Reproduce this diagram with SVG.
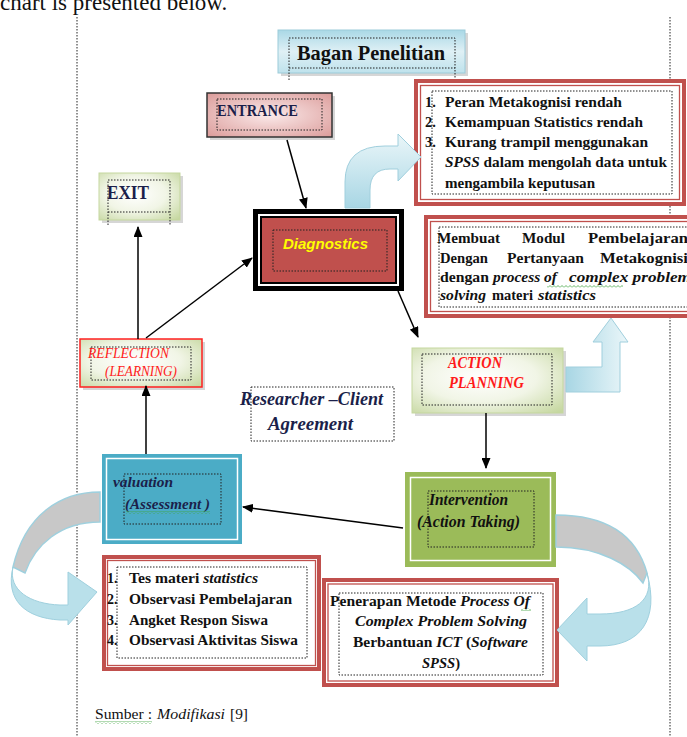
<svg xmlns="http://www.w3.org/2000/svg" width="687" height="737" viewBox="0 0 687 737">
<style>
.t{font-family:"Liberation Serif",serif;font-weight:bold;fill:#111;}
.r{font-family:"Liberation Serif",serif;fill:#111;}
.i{font-style:italic;}
.navy{fill:#1b1f4a;}
.red{fill:#ff1a1a;}
.dot{fill:none;stroke:#222;stroke-width:1;stroke-dasharray:1.5 1.5;}
.ro{fill:#fff;stroke:#c0504d;stroke-width:4;}
.ri{fill:none;stroke:#c0504d;stroke-width:1.3;}
.conn{stroke:#000;stroke-width:1.5;fill:none;}
.arr{marker-end:url(#ah);}
.sh{fill:#bbb;opacity:0.6;}
.sq{fill:url(#squig);}
</style>
<defs>
<marker id="ah" markerUnits="userSpaceOnUse" markerWidth="11" markerHeight="9" refX="10" refY="4.5" orient="auto">
<path d="M0,0 L11,4.5 L0,9 Z" fill="#000"/>
</marker>
<radialGradient id="gGreen" cx="0.45" cy="0.45" r="0.75">
<stop offset="0" stop-color="#ffffff"/>
<stop offset="0.5" stop-color="#f1f5e6"/>
<stop offset="1" stop-color="#c5d79f"/>
</radialGradient>
<radialGradient id="gPink" cx="0.5" cy="0.5" r="0.75">
<stop offset="0" stop-color="#fbeaea"/>
<stop offset="1" stop-color="#d99694"/>
</radialGradient>
<linearGradient id="gTitle" x1="0" y1="0" x2="0" y2="1">
<stop offset="0" stop-color="#a9d8e6"/>
<stop offset="0.5" stop-color="#dff0f5"/>
<stop offset="1" stop-color="#bfe2ec"/>
</linearGradient>
<linearGradient id="gBlue" x1="0" y1="0" x2="1" y2="0">
<stop offset="0" stop-color="#a8d6e4"/>
<stop offset="1" stop-color="#eaf6f9"/>
</linearGradient>
<linearGradient id="gBlueV" x1="0" y1="1" x2="0" y2="0">
<stop offset="0" stop-color="#a8d6e4"/>
<stop offset="1" stop-color="#eaf6f9"/>
</linearGradient>
<pattern id="squig" patternUnits="userSpaceOnUse" width="4" height="3">
<path d="M0,2.5 L2,0.5 L4,2.5" fill="none" stroke="#3fa33f" stroke-width="0.8"/>
</pattern>
</defs>

<rect width="687" height="737" fill="#fff"/>

<text class="r" x="0" y="10" font-size="23">chart is presented below.</text>

<line x1="77" y1="17" x2="77" y2="737" class="dot"/>
<line x1="670" y1="17" x2="670" y2="737" class="dot"/>

<g id="title">
<rect x="281" y="33" width="187" height="43" class="sh"/>
<rect x="278" y="30" width="187" height="43" fill="url(#gTitle)" stroke="#9ccbd9" stroke-width="1"/>
<path d="M289,80 L289,38 L455,38 L455,80 M289,68 L455,68" class="dot"/>
<text class="t" x="297" y="60" font-size="21" textLength="148" lengthAdjust="spacingAndGlyphs">Bagan Penelitian</text>
</g>

<g id="entrance">
<rect x="210" y="96" width="125" height="44" class="sh"/>
<rect x="207" y="93" width="125" height="44" fill="url(#gPink)" stroke="#333" stroke-width="1.5"/>
<rect x="217" y="99" width="105" height="31" class="dot"/>
<text class="t navy" x="217" y="116" font-size="17" textLength="81" lengthAdjust="spacingAndGlyphs">ENTRANCE</text>
</g>

<g id="exit">
<rect x="102" y="176" width="81" height="47" class="sh"/>
<rect x="99" y="173" width="81" height="47" fill="url(#gGreen)" stroke="#c5d79f" stroke-width="1"/>
<path d="M108,225 L108,180 L170,180 L170,225 M108,212 L170,212" class="dot"/>
<text class="t navy" x="107" y="199" font-size="18" textLength="42" lengthAdjust="spacingAndGlyphs">EXIT</text>
</g>

<g id="diagnostics">
<rect x="253" y="209" width="151" height="82" fill="#000"/>
<rect x="258" y="214" width="141" height="72" fill="#fff"/>
<rect x="260" y="216" width="137" height="68" fill="#000"/>
<rect x="262" y="218" width="133" height="64" fill="#c0504d"/>
<rect x="273" y="230" width="114" height="41" class="dot" stroke="#ddd"/>
<text x="283" y="249" font-family="Liberation Sans, sans-serif" font-style="italic" font-weight="bold" font-size="15" fill="#ffff00" textLength="85" lengthAdjust="spacingAndGlyphs">Diagnostics</text>
</g>

<g id="problems">
<rect x="416" y="81" width="268" height="123" class="ro"/>
<rect x="420.5" y="85.5" width="259" height="114" class="ri"/>
<rect x="432" y="91" width="240" height="103" class="dot"/>
<text class="t" x="425" y="107" font-size="14.5">1.</text>
<text class="t" x="425" y="127" font-size="14.5">2.</text>
<text class="t" x="425" y="147" font-size="14.5">3.</text>
<text class="t" x="445" y="107" font-size="14.5" textLength="177" lengthAdjust="spacingAndGlyphs">Peran Metakognisi rendah</text>
<text class="t" x="445" y="127" font-size="14.5" textLength="198" lengthAdjust="spacingAndGlyphs">Kemampuan Statistics rendah</text>
<text class="t" x="445" y="147" font-size="14.5" textLength="203" lengthAdjust="spacingAndGlyphs">Kurang trampil menggunakan</text>
<text class="t" x="445" y="167" font-size="14.5" textLength="222" lengthAdjust="spacingAndGlyphs"><tspan class="i">SPSS</tspan> dalam mengolah data untuk</text>
<text class="t" x="445" y="188" font-size="14.5" textLength="150" lengthAdjust="spacingAndGlyphs">mengambila keputusan</text>
</g>

<g id="modul">
<rect x="426" y="217" width="300" height="99" class="ro"/>
<rect x="430.5" y="221.5" width="300" height="90" class="ri"/>
<rect x="439" y="227" width="260" height="80" class="dot"/>
<text class="t" x="437" y="243" font-size="15" textLength="63" lengthAdjust="spacingAndGlyphs">Membuat</text>
<text class="t" x="522" y="243" font-size="15" textLength="43" lengthAdjust="spacingAndGlyphs">Modul</text>
<text class="t" x="588" y="243" font-size="15" textLength="100" lengthAdjust="spacingAndGlyphs">Pembelajaran</text>
<text class="t" x="440" y="263" font-size="15" textLength="48" lengthAdjust="spacingAndGlyphs">Dengan</text>
<text class="t" x="507" y="263" font-size="15" textLength="77" lengthAdjust="spacingAndGlyphs">Pertanyaan</text>
<text class="t" x="600" y="263" font-size="15" textLength="88" lengthAdjust="spacingAndGlyphs">Metakognisi</text>
<text class="t" x="440" y="282" font-size="15" textLength="49" lengthAdjust="spacingAndGlyphs">dengan</text>
<text class="t i" x="493" y="282" font-size="15" textLength="64" lengthAdjust="spacingAndGlyphs">process of</text>
<text class="t i" x="569" y="282" font-size="15" textLength="122" lengthAdjust="spacingAndGlyphs">complex problem</text>
<rect x="547" y="285" width="76" height="3" class="sq"/>
<text class="t i" x="440" y="300" font-size="15" textLength="46" lengthAdjust="spacingAndGlyphs">solving</text>
<text class="t" x="492" y="300" font-size="15" textLength="41" lengthAdjust="spacingAndGlyphs">materi</text>
<text class="t i" x="538" y="300" font-size="15" textLength="58" lengthAdjust="spacingAndGlyphs">statistics</text>
</g>

<g id="action">
<rect x="415" y="351" width="151" height="65" class="sh"/>
<rect x="412" y="348" width="151" height="65" fill="url(#gGreen)" stroke="#c5d79f" stroke-width="1"/>
<rect x="422" y="354" width="130" height="51" class="dot"/>
<text class="t i red" x="448" y="368" font-size="16" textLength="54" lengthAdjust="spacingAndGlyphs">ACTION</text>
<text class="t i red" x="449" y="388" font-size="16" textLength="75" lengthAdjust="spacingAndGlyphs">PLANNING</text>
</g>

<g id="reflection">
<rect x="83" y="342" width="122" height="48" class="sh"/>
<rect x="80" y="339" width="122" height="48" fill="url(#gGreen)" stroke="#ff2020" stroke-width="1.5"/>
<rect x="91" y="347" width="100" height="33" class="dot"/>
<text class="r i red" x="88" y="358" font-size="14" textLength="81" lengthAdjust="spacingAndGlyphs">REFLECTION</text>
<text class="r i red" x="105" y="376" font-size="14" textLength="72" lengthAdjust="spacingAndGlyphs">(LEARNING)</text>
</g>

<g id="agreement">
<rect x="251" y="387" width="143" height="54" class="dot"/>
<text class="t i navy" x="240" y="405" font-size="18" textLength="143" lengthAdjust="spacingAndGlyphs">Researcher –Client</text>
<text class="t i navy" x="268" y="430" font-size="18" textLength="85" lengthAdjust="spacingAndGlyphs">Agreement</text>
</g>

<g id="evaluation">
<rect x="102" y="454" width="140" height="90" fill="#4bacc6"/>
<rect x="106.5" y="458.5" width="131" height="81" fill="none" stroke="#fff" stroke-width="1.5"/>
<rect x="124" y="474" width="97" height="50" class="dot"/>
<text class="t i navy" x="113" y="487" font-size="15" textLength="60" lengthAdjust="spacingAndGlyphs">valuation</text>
<text class="t i navy" x="125" y="509" font-size="15" textLength="85" lengthAdjust="spacingAndGlyphs">(Assessment )</text>
<rect x="126" y="511" width="84" height="3" class="sq"/>
</g>

<g id="intervention">
<rect x="405" y="472" width="151" height="95" fill="#9bbb59"/>
<rect x="410.5" y="477.5" width="140" height="83" fill="none" stroke="#fff" stroke-width="1.5"/>
<rect x="428" y="491" width="106" height="56" class="dot"/>
<text class="t i" x="429" y="505" font-size="16" fill="#1a1a1a" textLength="79" lengthAdjust="spacingAndGlyphs">Intervention</text>
<text class="t i" x="417" y="527" font-size="16" fill="#1a1a1a" textLength="103" lengthAdjust="spacingAndGlyphs">(Action Taking)</text>
</g>

<g id="tes">
<rect x="104" y="557" width="215" height="112" class="ro"/>
<rect x="107.5" y="560.5" width="208" height="105" class="ri"/>
<rect x="117" y="567" width="190" height="91" class="dot"/>
<text class="t" x="107" y="583" font-size="14">1.</text>
<text class="t" x="107" y="604" font-size="14">2.</text>
<text class="t" x="107" y="625" font-size="14">3.</text>
<text class="t" x="107" y="645" font-size="14">4.</text>
<text class="t" x="129" y="583" font-size="14" textLength="129" lengthAdjust="spacingAndGlyphs">Tes materi <tspan class="i">statistics</tspan></text>
<text class="t" x="129" y="604" font-size="14" textLength="163" lengthAdjust="spacingAndGlyphs">Observasi Pembelajaran</text>
<text class="t" x="129" y="625" font-size="14" textLength="139" lengthAdjust="spacingAndGlyphs">Angket Respon Siswa</text>
<text class="t" x="129" y="645" font-size="14" textLength="169" lengthAdjust="spacingAndGlyphs">Observasi Aktivitas Siswa</text>
</g>

<g id="penerapan">
<rect x="324" y="580" width="233" height="105" class="ro"/>
<rect x="328" y="584" width="225" height="97" class="ri"/>
<rect x="339" y="593" width="204" height="82" class="dot"/>
<text class="t" x="330" y="606" font-size="15" textLength="200" lengthAdjust="spacingAndGlyphs">Penerapan Metode <tspan class="i">Process Of</tspan></text>
<rect x="521" y="608" width="10" height="3" class="sq"/>
<text class="t i" x="355" y="626" font-size="15" textLength="172" lengthAdjust="spacingAndGlyphs">Complex Problem Solving</text>
<text class="t" x="353" y="647" font-size="15" textLength="175" lengthAdjust="spacingAndGlyphs">Berbantuan <tspan class="i">ICT</tspan> (<tspan class="i">Software</tspan></text>
<text class="t" x="422" y="668" font-size="15" textLength="38" lengthAdjust="spacingAndGlyphs"><tspan class="i">SPSS</tspan>)</text>
</g>

<g id="connectors">
<line x1="287" y1="140" x2="306" y2="208" class="conn arr"/>
<line x1="146" y1="338" x2="252" y2="258" class="conn arr"/>
<line x1="138" y1="339" x2="138" y2="227" class="conn arr"/>
<line x1="398" y1="291" x2="418" y2="337" class="conn arr"/>
<line x1="486" y1="413" x2="486" y2="468" class="conn arr"/>
<line x1="403" y1="528" x2="243" y2="507" class="conn arr"/>
<line x1="146" y1="454" x2="146" y2="386" class="conn arr"/>
<path d="M345,208 L345,182 Q345,146 385,146 L398,146 L398,134 L421,157 L398,181 L398,169 L390,169 Q370,169 370,190 L370,208 Z" fill="url(#gBlueV)" stroke="#a0cfdd" stroke-width="1"/>
<path d="M566,367 L602,367 L602,342 L593,342 L611,318 L628,342 L620,342 L620,392 L566,392 Z" fill="url(#gBlue)" stroke="#a0cfdd" stroke-width="1"/>
<path d="M556,515 C600,515 635,530 647,573 L643,583 C630,565 600,547 556,547 Z" fill="#c8c8c8" stroke="#9fd0de" stroke-width="1.5"/>
<path d="M647,573 C655,600 635,614 600,614 L587,614 L587,598 L557,630 L587,661 L587,646 L600,646 C640,646 660,620 647,573 Z" fill="#b9e0ea" stroke="#9fd0de" stroke-width="1"/>
<path d="M100,492 C60,492 25,515 13,567 L25,573 C35,545 60,522 100,522 Z" fill="#c8c8c8" stroke="#9fd0de" stroke-width="1.5"/>
<path d="M13,567 C8,590 30,604 60,605 L68,605 L68,572 L97,592 L68,625 L68,620 L60,620 C25,618 5,600 13,567 Z" fill="#b9e0ea" stroke="#9fd0de" stroke-width="1"/>
</g>

<g id="source">
<text class="r" x="95" y="719" font-size="15" textLength="57" lengthAdjust="spacingAndGlyphs">Sumber :</text>
<rect x="95" y="721" width="57" height="3" class="sq"/>
<text class="r i" x="157" y="719" font-size="15" textLength="68" lengthAdjust="spacingAndGlyphs">Modifikasi</text>
<text class="r" x="230" y="719" font-size="15" textLength="18" lengthAdjust="spacingAndGlyphs">[9]</text>
</g>
</svg>
